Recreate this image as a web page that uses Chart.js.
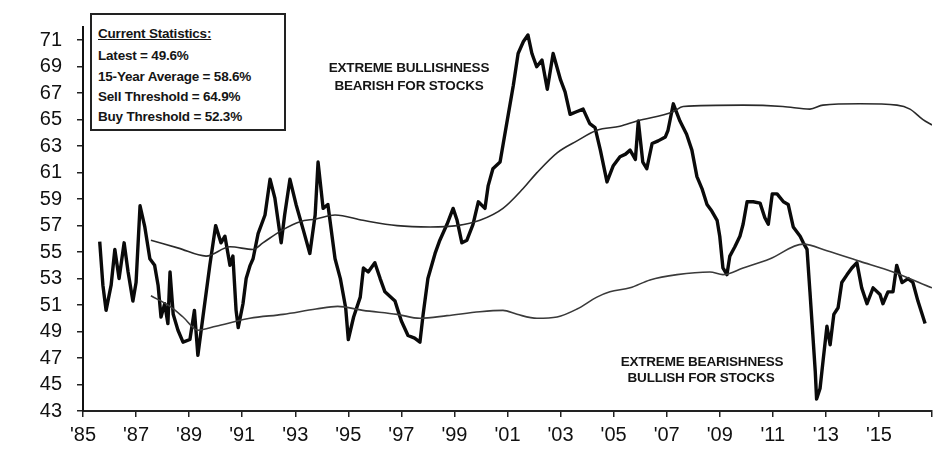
<!DOCTYPE html>
<html>
<head>
<meta charset="utf-8">
<script src="https://cdn.jsdelivr.net/npm/chart.js@4/dist/chart.umd.min.js"></script>
<style>
  html, body { margin: 0; padding: 0; background: #fff; }
  .wrap { position: relative; width: 949px; height: 456px; overflow: hidden; }
  canvas { position: absolute; left: 0; top: 0; }
  .stats-box {
    position: absolute; left: 90px; top: 13px; width: 192px; height: 114px;
    border: 2px solid #222; background: #fff;
  }
  .txt {
    position: absolute; white-space: nowrap; color: #151515;
    font-family: "Liberation Sans", Arial, sans-serif; font-weight: bold;
    font-size: 13.5px; line-height: 16px; letter-spacing: -0.2px;
  }
  .stats-title { text-decoration: underline; }
  .note { text-align: center; width: 240px; }
</style>
</head>
<body>
<div class="wrap">
  <canvas id="sentimentChart" width="949" height="456"></canvas>
  <div class="stats-box"></div>
  <div class="txt stats-title" style="left:98px;top:26px">Current Statistics:</div>
  <div class="txt" style="left:98px;top:48px">Latest = 49.6%</div>
  <div class="txt" style="left:98px;top:69px">15-Year Average = 58.6%</div>
  <div class="txt" style="left:98px;top:89px">Sell Threshold = 64.9%</div>
  <div class="txt" style="left:98px;top:109px">Buy Threshold = 52.3%</div>
  <div class="txt note" style="left:289px;top:60px">EXTREME BULLISHNESS</div>
  <div class="txt note" style="left:289px;top:78px">BEARISH FOR STOCKS</div>
  <div class="txt note" style="left:582px;top:354px">EXTREME BEARISHNESS</div>
  <div class="txt note" style="left:581px;top:370px">BULLISH FOR STOCKS</div>
</div>
<script>
// sentiment reading (%)
const sentYears = [
  1985.63, 1985.75, 1985.87, 1986.06, 1986.2, 1986.36, 1986.55, 1986.7, 1986.88, 1987.0,
  1987.15, 1987.33, 1987.52, 1987.7, 1987.83, 1987.94, 1988.08, 1988.2, 1988.28, 1988.4,
  1988.58, 1988.77, 1989.03, 1989.2, 1989.33, 1989.52, 1989.78, 1990.0, 1990.2, 1990.35,
  1990.54, 1990.65, 1990.77, 1990.85, 1991.03, 1991.15, 1991.3, 1991.41, 1991.6, 1991.86,
  1992.05, 1992.23, 1992.47, 1992.6, 1992.8, 1993.03, 1993.3, 1993.55, 1993.75, 1993.86,
  1994.05, 1994.23, 1994.5, 1994.7, 1994.9, 1995.0, 1995.2, 1995.45, 1995.57, 1995.75,
  1996.0, 1996.2, 1996.38, 1996.76, 1996.87, 1997.0, 1997.25, 1997.5, 1997.7, 1997.82,
  1998.0, 1998.27, 1998.45, 1998.72, 1998.95, 1999.1, 1999.28, 1999.47, 1999.7, 1999.9,
  2000.15, 2000.27, 2000.45, 2000.72, 2000.84, 2001.03, 2001.22, 2001.4, 2001.6, 2001.77,
  2001.92, 2002.1, 2002.3, 2002.5, 2002.72, 2003.0, 2003.17, 2003.36, 2003.6, 2003.85,
  2004.1, 2004.3, 2004.5, 2004.75, 2004.98, 2005.24, 2005.45, 2005.62, 2005.82, 2005.93,
  2006.1, 2006.25, 2006.45, 2006.68, 2006.95, 2007.05, 2007.25, 2007.5, 2007.75, 2007.95,
  2008.14, 2008.33, 2008.52, 2008.7, 2008.9, 2009.0, 2009.12, 2009.27, 2009.38, 2009.57,
  2009.76, 2009.88, 2010.03, 2010.26, 2010.52, 2010.7, 2010.83, 2010.98, 2011.16, 2011.4,
  2011.58, 2011.77, 2012.03, 2012.15, 2012.29, 2012.4, 2012.48, 2012.6, 2012.65, 2012.78,
  2012.9, 2013.04, 2013.16, 2013.3, 2013.46, 2013.6, 2013.8, 2013.98, 2014.17, 2014.35,
  2014.55, 2014.78, 2015.04, 2015.15, 2015.34, 2015.53, 2015.67, 2015.87, 2016.1, 2016.28,
  2016.47, 2016.74
];
const sentValues = [
  55.8, 52.5, 50.6, 52.5, 55.2, 53.0, 55.7, 53.5, 51.3, 52.7,
  58.5, 56.9, 54.5, 54.0, 52.5, 50.1, 51.1, 49.6, 53.5, 50.3,
  49.1, 48.2, 48.4, 50.6, 47.2, 50.1, 54.0, 57.0, 55.7, 56.2,
  54.0, 54.7, 50.6, 49.3, 51.1, 53.0, 54.0, 54.5, 56.4, 57.8,
  60.5, 59.1, 55.7, 57.8, 60.5, 58.6, 56.7, 54.9, 57.8, 61.8,
  58.3, 58.6, 54.5, 53.0, 50.8, 48.4, 50.1, 51.6, 53.8, 53.5,
  54.2, 53.0, 52.0, 51.3, 50.6, 49.8, 48.7, 48.5, 48.2, 50.3,
  53.0, 54.9, 55.9, 57.1, 58.3, 57.4, 55.7, 55.9, 57.1, 58.8,
  58.3, 60.0, 61.3, 61.8, 63.2, 65.4, 67.6, 70.0, 70.9, 71.4,
  70.0, 69.0, 69.5, 67.3, 70.0, 68.0, 67.1, 65.4, 65.6, 65.8,
  64.7, 64.4, 62.7, 60.3, 61.5, 62.2, 62.4, 62.7, 62.0, 64.9,
  61.8, 61.3, 63.2, 63.4, 63.7, 64.2, 66.2, 64.9, 63.9, 62.7,
  60.7, 59.8, 58.6, 58.1, 57.4, 56.2, 53.8, 53.3, 54.7, 55.4,
  56.2, 57.1, 58.8, 58.8, 58.7, 57.6, 57.1, 59.4, 59.4, 58.8,
  58.6, 56.9, 56.2, 55.7, 55.2, 52.0, 49.6, 46.0, 43.9, 44.7,
  46.9, 49.4, 48.0, 50.3, 50.8, 52.7, 53.3, 53.8, 54.2, 52.3,
  51.1, 52.3, 51.8, 51.1, 52.0, 52.0, 54.0, 52.7, 53.0, 52.7,
  51.3, 49.6
];
// sell threshold (upper band)
const sellYears = [
  1987.56, 1988.6, 1989.64, 1990.54, 1991.41, 1991.78, 1992.54, 1993.18, 1993.78, 1994.5,
  1995.55, 1996.84, 1998.08, 1999.1, 1999.96, 2000.83, 2001.59, 2002.11, 2002.87, 2003.62,
  2004.37, 2005.24, 2005.88, 2007.24, 2007.62, 2009.88, 2011.38, 2012.4, 2012.89, 2014.29,
  2015.68, 2016.17, 2016.66, 2017.0
];
const sellValues = [
  55.9, 55.3, 54.7, 55.4, 55.2, 55.7, 56.7, 57.3, 57.5, 57.8,
  57.4, 57.0, 56.9, 57.0, 57.4, 58.3, 59.8, 61.0, 62.5, 63.4,
  64.2, 64.5, 64.9, 65.6, 66.0, 66.1, 66.0, 65.8, 66.1, 66.2,
  66.1, 65.8, 65.0, 64.6
];
// buy threshold (lower band)
const buyYears = [
  1987.56, 1988.28, 1988.77, 1989.33, 1990.01, 1991.29, 1992.54, 1993.78, 1994.6, 1995.55,
  1996.84, 1997.7, 1998.72, 1999.96, 2000.83, 2001.36, 2002.11, 2002.87, 2003.62, 2004.37,
  2004.86, 2005.62, 2006.37, 2007.39, 2008.63, 2009.12, 2009.88, 2010.9, 2012.14, 2013.04,
  2014.29, 2015.53, 2017.0
];
const buyValues = [
  51.7, 50.9, 50.1, 49.1, 49.4, 50.0, 50.3, 50.7, 50.9, 50.6,
  50.3, 50.0, 50.2, 50.5, 50.6, 50.3, 50.0, 50.1, 50.7, 51.6,
  52.0, 52.3, 52.9, 53.3, 53.5, 53.3, 53.8, 54.5, 55.6, 55.1,
  54.3, 53.5, 52.3
];
const yTickValues = [43, 45, 47, 49, 51, 53, 55, 57, 59, 61, 63, 65, 67, 69, 71];
const xTickValues = [1985, 1987, 1989, 1991, 1993, 1995, 1997, 1999, 2001, 2003, 2005, 2007, 2009, 2011, 2013, 2015, 2017];

const toPoints = (xs, ys) => xs.map((x, i) => ({ x: x, y: ys[i] }));

const tickFont = { family: "Liberation Sans, Arial, sans-serif", size: 20 };

new Chart(document.getElementById("sentimentChart"), {
  type: "line",
  data: {
    datasets: [
      {
        data: toPoints(sellYears, sellValues),
        borderColor: "#2a2a2a",
        borderWidth: 1.6,
        pointRadius: 0,
        cubicInterpolationMode: "monotone",
      },
      {
        data: toPoints(buyYears, buyValues),
        borderColor: "#3a3a3a",
        borderWidth: 1.6,
        pointRadius: 0,
        cubicInterpolationMode: "monotone",
      },
      {
        data: toPoints(sentYears, sentValues),
        borderColor: "#0a0a0a",
        borderWidth: 3.4,
        pointRadius: 0,
        tension: 0,
        borderJoinStyle: "round",
      },
    ],
  },
  options: {
    responsive: false,
    animation: false,
    layout: { padding: { left: 0, right: 17, top: 12, bottom: 0 } },
    plugins: { legend: { display: false }, tooltip: { enabled: false } },
    scales: {
      x: {
        type: "linear",
        min: 1985,
        max: 2017,
        afterBuildTicks: (scale) => { scale.ticks = xTickValues.map((v) => ({ value: v })); },
        afterFit: (scale) => { scale.height = 45; },
        grid: { drawOnChartArea: false, tickLength: 6, color: "#222", lineWidth: 1.5 },
        border: { color: "#222", width: 2 },
        ticks: {
          autoSkip: false,
          maxRotation: 0,
          padding: 6,
          color: "#111",
          font: tickFont,
          callback: (v) => (v > 2015 ? "" : "'" + String(v).slice(2)),
        },
      },
      y: {
        min: 43,
        max: 72,
        afterBuildTicks: (scale) => { scale.ticks = yTickValues.map((v) => ({ value: v })); },
        afterFit: (scale) => { scale.width = 83; },
        grid: { drawOnChartArea: false, tickLength: 6, color: "#222", lineWidth: 1.5 },
        border: { color: "#111", width: 2 },
        ticks: { padding: 15, color: "#111", font: tickFont },
      },
    },
  },
});
</script>
</body>
</html>
